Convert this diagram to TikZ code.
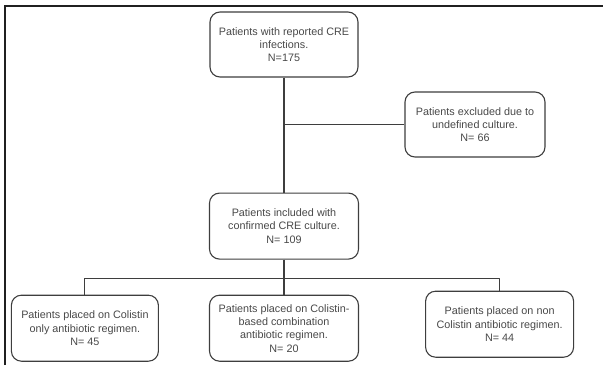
\documentclass[tikz,border=0pt]{standalone}
\usepackage{fontspec}
\setmainfont{Liberation Sans}
\usepackage{tikz}
\usetikzlibrary{positioning}
\usepackage{xcolor}
\definecolor{LineGray}{RGB}{62,62,62}
\definecolor{TextGray}{RGB}{72,72,72}
\definecolor{FrameBlack}{RGB}{32,32,32}
\tikzset{%
  flow_block/.style={%
    rectangle,%
    rounded corners=10pt,%
    draw=LineGray,%
    line width=1.1pt,%
    minimum width=148pt,%
    minimum height=65pt,%
    inner sep=2pt,%
    text=TextGray,%
    font={\fontsize{10.8}{13.3}\selectfont},%
    align=center%
  },
  flow_path/.style={%
    color=LineGray,%
    line join=round,%
    line width=1.1pt%
  },
  frame_path/.style={%
    color=FrameBlack,%
    line width=1.4pt%
  },
}

\begin{document}
\begin{tikzpicture}[x=1pt, y=1pt]
    \useasboundingbox (0,0) rectangle (603,365);
    \draw [frame_path] (5,0) |- (603,359);

    \node [flow_block] (Reported) at (284,320.5)
      {Patients with reported CRE\\infections.\\N=175};
    \node [flow_block, minimum width=140pt] (Excluded) at (475,240.5)
      {Patients excluded due to\\undefined culture.\\N= 66};
    \node [flow_block, minimum width=149pt, minimum height=66pt,
      below=115pt of Reported] (Included)
      {Patients included with\\confirmed CRE culture.\\N= 109};
    \node [flow_block, minimum width=149pt, minimum height=66pt,
      below=35pt of Included] (Combination)
      {Patients placed on Colistin-\\based combination\\antibiotic regimen.\\N= 20};
    \node [flow_block, minimum width=147pt, minimum height=66pt,
      left=50pt of Combination] (ColistinOnly)
      {Patients placed on Colistin\\only antibiotic regimen.\\N= 45};
    \node [flow_block, minimum height=66pt,
      right=66pt of Combination, yshift=4pt] (NonColistin)
      {Patients placed on non\\Colistin antibiotic regimen.\\N= 44};
    \coordinate [below=19pt of Included] (Split);

    \draw [flow_path]
      (Reported.south) -- (Included.north);
    \draw [flow_path]
      (Reported.south |- Excluded.west) -- (Excluded.west);
    \draw [flow_path]
      (Included.south) -- (Combination.north);
    \draw [flow_path]
      (ColistinOnly.north)
      |-
      (Split)
      -|
      (NonColistin.north);
  \end{tikzpicture}
\end{document}
